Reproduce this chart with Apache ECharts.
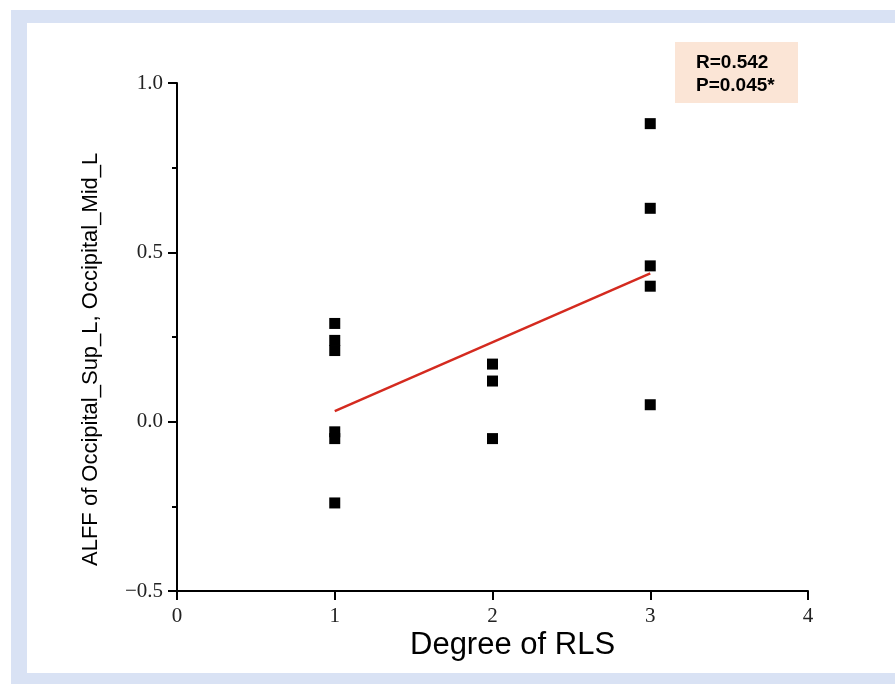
<!DOCTYPE html>
<html>
<head>
<meta charset="utf-8">
<script src="https://cdn.jsdelivr.net/npm/echarts@6/dist/echarts.min.js"></script>
<style>
  html, body { margin: 0; padding: 0; background: #ffffff; }
  #chart { width: 895px; height: 684px; }
</style>
</head>
<body>
<div id="chart"></div>
<script>
// RLS degree (x) and regional ALFF value (y) per subject
const degree = [1, 1, 1, 1, 1, 1, 2, 2, 2, 3, 3, 3, 3, 3];
const alff   = [0.29, 0.24, 0.21, -0.03, -0.05, -0.24, 0.17, 0.12, -0.05, 0.88, 0.63, 0.46, 0.40, 0.05];

const xTicks = [0, 1, 2, 3, 4];
const yTicks = [-0.5, 0, 0.5, 1.0];
const statsText = ['R=0.542', 'P=0.045*'];

// least-squares fit line over the observed range of x
function linearFit(xs, ys) {
  const n = xs.length;
  const mx = xs.reduce((a, b) => a + b, 0) / n;
  const my = ys.reduce((a, b) => a + b, 0) / n;
  let sxy = 0, sxx = 0;
  for (let i = 0; i < n; i++) {
    sxy += (xs[i] - mx) * (ys[i] - my);
    sxx += (xs[i] - mx) * (xs[i] - mx);
  }
  const slope = sxy / sxx;
  return { slope, intercept: my - slope * mx };
}
const fit = linearFit(degree, alff);
const xMin = Math.min(...degree), xMax = Math.max(...degree);
const fitLine = [xMin, xMax].map(x => [x, fit.intercept + fit.slope * x]);
const points = degree.map((x, i) => [x, alff[i]]);

const chart = echarts.init(document.getElementById('chart'), null, { renderer: 'canvas' });

const fmt = v => (v < 0 ? '\u2212' : '') + Math.abs(v).toFixed(1);

chart.setOption({
  animation: false,
  backgroundColor: '#ffffff',
  grid: { left: 177, right: 87, top: 83, bottom: 93 },
  xAxis: {
    type: 'value',
    min: xTicks[0], max: xTicks[xTicks.length - 1], interval: 1,
    axisLine: { onZero: false, lineStyle: { color: '#000', width: 2 } },
    axisTick: { show: true, length: 9, lineStyle: { color: '#000', width: 2 } },
    axisLabel: { color: '#222', fontFamily: 'Liberation Serif', fontSize: 21, margin: 15 },
    splitLine: { show: false }
  },
  yAxis: {
    type: 'value',
    min: yTicks[0], max: yTicks[yTicks.length - 1], interval: 0.5,
    axisLine: { onZero: false, lineStyle: { color: '#000', width: 2 } },
    axisTick: { show: true, length: 9, lineStyle: { color: '#000', width: 2 } },
    minorTick: { show: true, splitNumber: 2, length: 5, lineStyle: { color: '#000', width: 2 } },
    axisLabel: { color: '#222', fontFamily: 'Liberation Serif', fontSize: 21, margin: 14, formatter: fmt },
    splitLine: { show: false }
  },
  graphic: [
    // page frame
    { type: 'rect', z: -10, shape: { x: 11, y: 10, width: 884, height: 674 }, style: { fill: '#d9e2f4' } },
    { type: 'rect', z: -9, shape: { x: 27, y: 23, width: 868, height: 650 }, style: { fill: '#ffffff' } },
    // axis titles
    {
      type: 'text', left: 410, top: 630,
      style: { text: 'Degree of RLS', font: '31px "Liberation Sans", Arial, sans-serif', fill: '#000' }
    },
    {
      type: 'text', rotation: Math.PI / 2, x: 80, y: 566,
      style: { text: 'ALFF of Occipital_Sup_L, Occipital_Mid_L', font: '22px "Liberation Sans", Arial, sans-serif', fill: '#000', textAlign: 'left', textVerticalAlign: 'top' }
    },
    // statistics box
    { type: 'rect', shape: { x: 675, y: 42, width: 123, height: 61 }, style: { fill: '#fbe5d6' } },
    {
      type: 'text', x: 696, y: 51,
      style: { text: statsText.join('\n'), font: 'bold 19px "Liberation Sans", Arial, sans-serif', fill: '#000', lineHeight: 23 }
    }
  ],
  series: [
    {
      type: 'scatter',
      data: points,
      symbol: 'rect',
      symbolSize: 11,
      itemStyle: { color: '#000', opacity: 1 },
      z: 3
    },
    {
      type: 'line',
      data: fitLine,
      symbol: 'none',
      lineStyle: { color: '#d42a1f', width: 2.5 },
      z: 2
    }
  ]
});
</script>
</body>
</html>
